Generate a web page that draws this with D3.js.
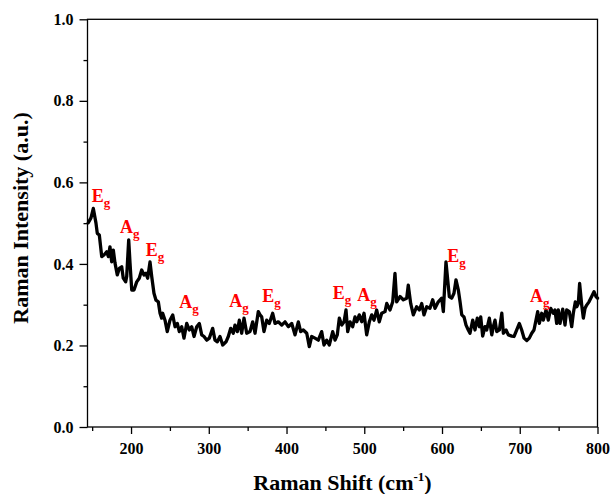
<!DOCTYPE html>
<html>
<head>
<meta charset="utf-8">
<script src="https://cdn.jsdelivr.net/npm/d3@7"></script>
<style>
  html, body { margin: 0; padding: 0; background: #fff; }
  svg { display: block; }
  text { font-family: "Liberation Serif", "Times New Roman", serif; font-weight: bold; }
</style>
</head>
<body>
<svg id="chart" width="611" height="494"></svg>
<script>
// Raman shift (cm-1)
const shift = [145.0,148.5,151.5,154.9,156.6,159.2,162.3,165.2,168.7,170.8,172.9,175.1,177.2,179.4,182.3,184.9,188.0,190.0,193.1,194.4,197.0,198.7,200.9,203.8,207.3,210.6,213.7,216.7,219.2,221.4,224.4,226.6,229.5,232.1,235.1,237.3,239.4,240.7,243.7,246.6,250.1,253.6,256.6,259.5,262.1,265.2,268.1,271.6,274.9,278.0,281.0,284.5,287.8,290.9,293.9,297.3,300.7,305.0,308.0,311.0,314.4,317.9,322.2,325.1,328.2,331.5,333.7,336.7,339.3,342.3,345.3,348.8,353.0,356.5,359.5,363.7,365.9,368.1,371.0,374.5,377.8,382.2,385.2,389.4,393.8,398.1,402.3,406.7,410.9,415.2,418.2,421.6,426.0,429.3,432.4,436.6,440.9,445.2,448.2,451.7,455.0,459.4,462.4,465.3,467.9,471.0,474.0,476.5,478.7,481.7,485.1,488.1,490.3,493.6,496.7,499.7,503.1,506.5,509.6,512.5,516.0,519.3,522.4,526.7,528.9,533.1,536.6,539.5,541.7,546.0,550.2,554.6,556.6,559.7,563.1,567.4,570.8,573.9,576.8,580.3,584.5,588.0,591.0,595.2,599.6,601.7,605.1,609.4,612.5,615.4,618.0,621.0,623.2,625.4,628.3,630.9,633.8,636.0,639.5,642.4,645.4,648.0,649.8,652.3,655.3,657.5,660.9,664.0,666.0,668.2,670.4,673.8,676.9,678.9,682.4,685.3,689.7,692.7,696.1,699.5,702.5,705.5,709.0,712.3,715.4,718.3,720.9,723.1,725.2,728.2,730.3,733.8,736.7,739.8,743.2,745.3,747.5,749.6,751.8,755.3,758.2,760.4,763.7,766.8,768.9,771.5,773.3,775.3,777.0,779.7,781.8,783.9,786.1,789.1,792.5,795.5,798.1,800.0];
// Raman intensity (a.u.)
const intensity = [0.501,0.513,0.536,0.500,0.475,0.471,0.418,0.422,0.430,0.418,0.442,0.405,0.434,0.402,0.373,0.389,0.393,0.365,0.356,0.369,0.459,0.402,0.336,0.336,0.356,0.365,0.385,0.373,0.377,0.365,0.405,0.369,0.328,0.311,0.307,0.279,0.267,0.279,0.262,0.234,0.262,0.275,0.246,0.254,0.234,0.246,0.218,0.254,0.238,0.246,0.222,0.246,0.254,0.226,0.222,0.213,0.218,0.242,0.213,0.209,0.222,0.201,0.209,0.222,0.242,0.230,0.250,0.234,0.262,0.230,0.267,0.230,0.234,0.258,0.230,0.283,0.275,0.270,0.234,0.262,0.254,0.279,0.254,0.258,0.250,0.258,0.246,0.254,0.226,0.258,0.234,0.238,0.230,0.197,0.222,0.218,0.213,0.234,0.201,0.213,0.201,0.234,0.213,0.226,0.267,0.250,0.258,0.287,0.234,0.258,0.246,0.270,0.258,0.275,0.258,0.279,0.226,0.258,0.275,0.262,0.287,0.258,0.279,0.283,0.303,0.287,0.307,0.377,0.307,0.320,0.312,0.316,0.348,0.303,0.275,0.295,0.287,0.303,0.275,0.295,0.291,0.312,0.291,0.307,0.316,0.283,0.405,0.320,0.316,0.328,0.361,0.336,0.307,0.275,0.270,0.250,0.238,0.230,0.262,0.238,0.267,0.246,0.270,0.223,0.246,0.238,0.267,0.226,0.246,0.262,0.234,0.238,0.279,0.230,0.238,0.226,0.223,0.222,0.238,0.254,0.238,0.218,0.212,0.218,0.230,0.238,0.262,0.283,0.254,0.279,0.262,0.287,0.262,0.291,0.279,0.287,0.254,0.287,0.254,0.289,0.250,0.287,0.283,0.246,0.279,0.307,0.295,0.303,0.352,0.299,0.267,0.291,0.299,0.307,0.320,0.332,0.320,0.316];

// Peak assignment labels (symbol, subscript, anchor shift, anchor intensity)
const peakSymbols = ["E","A","E","A","A","E","E","A","E","A"];
const peakSubs    = ["g","g","g","g","g","g","g","g","g","g"];
const peakShift   = [149.4,185.8,218.9,262.1,326.4,368.8,459.4,491.1,606.8,713.2];
const peakLevel   = [0.553,0.475,0.419,0.291,0.295,0.307,0.313,0.310,0.405,0.306];

// Axis ticks
const xMajor = [200,300,400,500,600,700,800];
const xMinor = [150,250,350,450,550,650,750];
const yMajor = [0.0,0.2,0.4,0.6,0.8,1.0];
const yMinor = [0.1,0.3,0.5,0.7,0.9];

const xDomain = [144, 800];
const yDomain = [0, 1];

const svg = d3.select("#chart");
const L = 87.5, R = 597.5, T = 19.3, B = 427;

const x = d3.scaleLinear().domain(xDomain).range([L, R]);
const y = d3.scaleLinear().domain(yDomain).range([B, T]);

// minor ticks
svg.append("g").attr("transform", `translate(0,${B})`)
  .call(d3.axisBottom(x).tickValues(xMinor).tickSize(4).tickFormat(""))
  .call(g => g.select(".domain").remove())
  .call(g => g.selectAll("line").attr("stroke", "#000").attr("stroke-width", 1.3));
svg.append("g").attr("transform", `translate(${L},0)`)
  .call(d3.axisLeft(y).tickValues(yMinor).tickSize(4).tickFormat(""))
  .call(g => g.select(".domain").remove())
  .call(g => g.selectAll("line").attr("stroke", "#000").attr("stroke-width", 1.3));

// major ticks
svg.append("g").attr("transform", `translate(0,${B})`)
  .call(d3.axisBottom(x).tickValues(xMajor).tickSize(7).tickPadding(8.5).tickFormat(d3.format("d")))
  .call(g => g.select(".domain").remove())
  .call(g => g.selectAll("line").attr("stroke", "#000").attr("stroke-width", 1.3))
  .call(g => g.selectAll("text").attr("fill", "#000")
      .style("font-family", '"Liberation Serif", serif').style("font-weight", "bold").style("font-size", "16px"));
svg.append("g").attr("transform", `translate(${L},0)`)
  .call(d3.axisLeft(y).tickValues(yMajor).tickSize(8).tickPadding(6).tickFormat(d3.format(".1f")))
  .call(g => g.select(".domain").remove())
  .call(g => g.selectAll("line").attr("stroke", "#000").attr("stroke-width", 1.3))
  .call(g => g.selectAll("text").attr("fill", "#000")
      .style("font-family", '"Liberation Serif", serif').style("font-weight", "bold").style("font-size", "16px"));

// frame
svg.append("rect")
  .attr("x", L).attr("y", T).attr("width", R - L).attr("height", B - T)
  .attr("fill", "none").attr("stroke", "#000").attr("stroke-width", 1.3);

// spectrum
const data = shift.map((s, i) => [s, intensity[i]]);
svg.append("path")
  .datum(data)
  .attr("fill", "none")
  .attr("stroke", "#000")
  .attr("stroke-width", 3.3)
  .attr("stroke-linejoin", "round")
  .attr("stroke-linecap", "round")
  .attr("d", d3.line().x(d => x(d[0])).y(d => y(d[1])));

// peak labels
peakSymbols.forEach((s, i) => {
  const t = svg.append("text")
    .attr("x", x(peakShift[i]))
    .attr("y", y(peakLevel[i]))
    .attr("fill", "#ff0000")
    .style("font-size", "18px");
  t.append("tspan").text(s);
  t.append("tspan").attr("dy", 5).style("font-size", "13px").text(peakSubs[i]);
});

// axis titles
svg.append("text")
  .attr("transform", `translate(28,218) rotate(-90)`)
  .attr("text-anchor", "middle")
  .attr("fill", "#000")
  .style("font-size", "22px")
  .text("Raman Intensity (a.u.)");

const xt = svg.append("text")
  .attr("x", (L + R) / 2)
  .attr("y", 490)
  .attr("text-anchor", "middle")
  .attr("fill", "#000")
  .style("font-size", "22px");
xt.append("tspan").text("Raman Shift (cm");
xt.append("tspan").attr("dy", -9).style("font-size", "13px").text("-1");
xt.append("tspan").attr("dy", 9).text(")");
</script>
</body>
</html>
